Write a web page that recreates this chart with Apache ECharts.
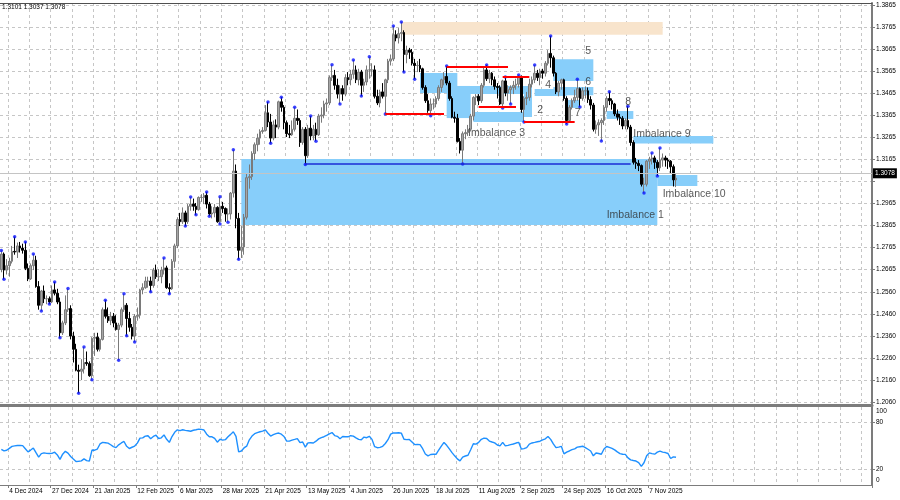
<!DOCTYPE html>
<html><head><meta charset="utf-8">
<script src="https://cdn.jsdelivr.net/npm/echarts@6/dist/echarts.min.js"></script>
<style>html,body{margin:0;padding:0;background:#fff}#c{width:900px;height:500px}</style>
</head><body><div id="c"></div>
<script>
// ---------- DATA ----------
const holidays = ['2024-12-25', '2025-01-01'];
const firstDay = '2024-11-29';
const futureSlots = 73;
// daily bars [open, high, low, close]
const bars = [
[1.2662,1.2749,1.2650,1.2733],[1.2733,1.2740,1.2618,1.2660],[1.2660,1.2710,1.2640,1.2680],[1.2680,1.2716,1.2630,1.2700],
[1.2700,1.2770,1.2690,1.2745],[1.2745,1.2812,1.2730,1.2742],[1.2742,1.2785,1.2715,1.2770],[1.2770,1.2788,1.2740,1.2760],
[1.2760,1.2780,1.2735,1.2750],[1.2750,1.2788,1.2660,1.2668],[1.2668,1.2690,1.2610,1.2620],[1.2620,1.2690,1.2615,1.2680],
[1.2680,1.2733,1.2660,1.2705],[1.2705,1.2725,1.2580,1.2585],[1.2585,1.2610,1.2480,1.2500],[1.2500,1.2570,1.2474,1.2565],
[1.2565,1.2590,1.2510,1.2530],[1.2530,1.2545,1.2505,1.2530],[1.2530,1.2540,1.2506,1.2515],[1.2515,1.2590,1.2510,1.2570],
[1.2570,1.2606,1.2545,1.2555],[1.2555,1.2575,1.2505,1.2515],[1.2515,1.2535,1.2352,1.2375],[1.2375,1.2430,1.2365,1.2420],
[1.2420,1.2545,1.2410,1.2480],[1.2480,1.2576,1.2470,1.2485],[1.2485,1.2500,1.2345,1.2360],[1.2360,1.2380,1.2240,1.2300],
[1.2300,1.2325,1.2200,1.2205],[1.2205,1.2230,1.2100,1.2200],[1.2200,1.2255,1.2160,1.2210],[1.2210,1.2310,1.2190,1.2240],
[1.2240,1.2290,1.2225,1.2235],[1.2235,1.2245,1.2175,1.2180],[1.2180,1.2355,1.2162,1.2350],[1.2350,1.2375,1.2270,1.2355],
[1.2355,1.2375,1.2290,1.2300],[1.2300,1.2350,1.2290,1.2345],[1.2345,1.2490,1.2340,1.2480],[1.2480,1.2523,1.2440,1.2450],
[1.2450,1.2490,1.2420,1.2430],[1.2430,1.2470,1.2410,1.2450],[1.2450,1.2465,1.2400,1.2420],[1.2420,1.2455,1.2385,1.2390],
[1.2390,1.2420,1.2250,1.2410],[1.2410,1.2490,1.2400,1.2480],[1.2480,1.2552,1.2470,1.2500],[1.2500,1.2510,1.2362,1.2440],
[1.2440,1.2470,1.2380,1.2400],[1.2400,1.2415,1.2345,1.2360],[1.2360,1.2460,1.2333,1.2450],[1.2450,1.2490,1.2430,1.2455],
[1.2455,1.2575,1.2440,1.2570],[1.2570,1.2600,1.2550,1.2580],[1.2580,1.2630,1.2575,1.2610],[1.2610,1.2630,1.2580,1.2610],
[1.2610,1.2630,1.2562,1.2590],[1.2590,1.2670,1.2580,1.2660],[1.2660,1.2685,1.2620,1.2630],[1.2630,1.2665,1.2610,1.2630],
[1.2630,1.2675,1.2600,1.2660],[1.2660,1.2715,1.2640,1.2670],[1.2670,1.2680,1.2575,1.2580],[1.2580,1.2600,1.2552,1.2575],
[1.2575,1.2710,1.2570,1.2700],[1.2700,1.2780,1.2670,1.2770],[1.2770,1.2900,1.2760,1.2890],[1.2890,1.2920,1.2860,1.2880],
[1.2880,1.2945,1.2870,1.2920],[1.2920,1.2930,1.2860,1.2880],[1.2880,1.2960,1.2870,1.2950],[1.2950,1.2992,1.2930,1.2960],
[1.2960,1.2985,1.2930,1.2950],[1.2950,1.2965,1.2911,1.2935],[1.2935,1.2995,1.2930,1.2990],[1.2990,1.3005,1.2970,1.2990],
[1.2990,1.3010,1.2960,1.3000],[1.3000,1.3015,1.2940,1.2960],[1.2960,1.2970,1.2905,1.2915],[1.2915,1.2950,1.2895,1.2920],
[1.2920,1.2960,1.2900,1.2945],[1.2945,1.2950,1.2875,1.2880],[1.2880,1.2993,1.2870,1.2950],[1.2950,1.2970,1.2920,1.2940],
[1.2940,1.2945,1.2880,1.2915],[1.2915,1.2940,1.2878,1.2915],[1.2915,1.3015,1.2890,1.3010],[1.3010,1.3207,1.2990,1.3110],
[1.3110,1.3140,1.2850,1.2895],[1.2895,1.2920,1.2709,1.2750],[1.2750,1.2860,1.2715,1.2765],[1.2765,1.2915,1.2730,1.2900],
[1.2900,1.3100,1.2890,1.3080],[1.3080,1.3140,1.3030,1.3085],[1.3085,1.3200,1.3070,1.3190],[1.3190,1.3240,1.3160,1.3230],
[1.3230,1.3280,1.3200,1.3260],[1.3260,1.3300,1.3230,1.3290],[1.3290,1.3310,1.3280,1.3295],[1.3295,1.3410,1.3290,1.3375],
[1.3375,1.3424,1.3310,1.3333],[1.3333,1.3370,1.3236,1.3260],[1.3260,1.3340,1.3250,1.3320],[1.3320,1.3345,1.3260,1.3310],
[1.3310,1.3430,1.3300,1.3425],[1.3425,1.3446,1.3380,1.3400],[1.3400,1.3410,1.3300,1.3330],[1.3330,1.3340,1.3265,1.3280],
[1.3280,1.3320,1.3260,1.3275],[1.3275,1.3340,1.3270,1.3300],[1.3300,1.3400,1.3290,1.3350],[1.3350,1.3390,1.3320,1.3340],
[1.3340,1.3350,1.3220,1.3240],[1.3240,1.3310,1.3230,1.3300],[1.3300,1.3310,1.3140,1.3180],[1.3180,1.3320,1.3170,1.3305],
[1.3305,1.3360,1.3250,1.3270],[1.3270,1.3320,1.3250,1.3300],[1.3300,1.3330,1.3246,1.3275],[1.3275,1.3370,1.3270,1.3360],
[1.3360,1.3400,1.3330,1.3365],[1.3365,1.3430,1.3350,1.3415],[1.3415,1.3440,1.3380,1.3420],[1.3420,1.3545,1.3410,1.3535],
[1.3535,1.3593,1.3520,1.3545],[1.3545,1.3570,1.3480,1.3500],[1.3500,1.3530,1.3440,1.3460],[1.3460,1.3500,1.3415,1.3485],
[1.3485,1.3500,1.3430,1.3460],[1.3460,1.3550,1.3450,1.3535],[1.3535,1.3560,1.3500,1.3525],[1.3525,1.3570,1.3500,1.3550],
[1.3550,1.3615,1.3530,1.3570],[1.3570,1.3590,1.3510,1.3525],[1.3525,1.3575,1.3500,1.3560],[1.3560,1.3570,1.3451,1.3500],
[1.3500,1.3530,1.3470,1.3515],[1.3515,1.3590,1.3500,1.3570],[1.3570,1.3630,1.3530,1.3570],[1.3570,1.3600,1.3540,1.3570],
[1.3570,1.3590,1.3440,1.3450],[1.3450,1.3480,1.3410,1.3420],[1.3420,1.3480,1.3400,1.3470],[1.3470,1.3510,1.3440,1.3450],
[1.3450,1.3530,1.3370,1.3525],[1.3525,1.3620,1.3510,1.3610],[1.3610,1.3640,1.3590,1.3620],[1.3620,1.3770,1.3610,1.3730],
[1.3730,1.3750,1.3700,1.3715],[1.3715,1.3760,1.3690,1.3735],[1.3735,1.3788,1.3700,1.3740],[1.3740,1.3750,1.3560,1.3640],
[1.3640,1.3680,1.3600,1.3660],[1.3660,1.3670,1.3620,1.3650],[1.3650,1.3665,1.3590,1.3600],[1.3600,1.3620,1.3528,1.3590],
[1.3590,1.3610,1.3560,1.3590],[1.3590,1.3620,1.3560,1.3575],[1.3575,1.3580,1.3480,1.3490],[1.3490,1.3500,1.3420,1.3430],
[1.3430,1.3460,1.3375,1.3385],[1.3385,1.3440,1.3361,1.3415],[1.3415,1.3440,1.3390,1.3415],[1.3415,1.3450,1.3400,1.3440],
[1.3440,1.3500,1.3430,1.3490],[1.3490,1.3530,1.3470,1.3525],[1.3525,1.3560,1.3500,1.3540],[1.3540,1.3588,1.3500,1.3510],
[1.3510,1.3520,1.3430,1.3440],[1.3440,1.3450,1.3350,1.3355],[1.3355,1.3380,1.3330,1.3350],[1.3350,1.3370,1.3240,1.3245],
[1.3245,1.3260,1.3190,1.3205],[1.3205,1.3290,1.3142,1.3280],[1.3280,1.3300,1.3255,1.3285],[1.3285,1.3320,1.3270,1.3300],
[1.3300,1.3370,1.3290,1.3360],[1.3360,1.3450,1.3340,1.3445],[1.3445,1.3460,1.3410,1.3450],[1.3450,1.3460,1.3410,1.3430],
[1.3430,1.3510,1.3420,1.3500],[1.3500,1.3580,1.3490,1.3570],[1.3570,1.3592,1.3520,1.3530],[1.3530,1.3570,1.3510,1.3555],
[1.3555,1.3560,1.3500,1.3525],[1.3525,1.3540,1.3480,1.3495],[1.3495,1.3510,1.3440,1.3490],[1.3490,1.3500,1.3410,1.3415],
[1.3415,1.3525,1.3397,1.3520],[1.3520,1.3538,1.3450,1.3465],[1.3465,1.3500,1.3430,1.3480],[1.3480,1.3500,1.3415,1.3490],
[1.3490,1.3520,1.3460,1.3500],[1.3500,1.3530,1.3480,1.3505],[1.3505,1.3547,1.3490,1.3540],[1.3540,1.3545,1.3375,1.3390],
[1.3390,1.3450,1.3333,1.3440],[1.3440,1.3470,1.3410,1.3445],[1.3445,1.3530,1.3430,1.3505],[1.3505,1.3540,1.3490,1.3525],
[1.3525,1.3592,1.3510,1.3555],[1.3555,1.3570,1.3520,1.3535],[1.3535,1.3575,1.3500,1.3565],[1.3565,1.3575,1.3530,1.3555],
[1.3555,1.3610,1.3540,1.3600],[1.3600,1.3660,1.3590,1.3645],[1.3645,1.3724,1.3580,1.3625],[1.3625,1.3635,1.3540,1.3555],
[1.3555,1.3560,1.3460,1.3470],[1.3470,1.3520,1.3450,1.3510],[1.3510,1.3530,1.3480,1.3525],[1.3525,1.3530,1.3430,1.3440],
[1.3440,1.3450,1.3324,1.3340],[1.3340,1.3410,1.3330,1.3400],[1.3400,1.3440,1.3390,1.3430],[1.3430,1.3480,1.3420,1.3445],
[1.3445,1.3528,1.3430,1.3485],[1.3485,1.3490,1.3401,1.3440],[1.3440,1.3490,1.3430,1.3475],[1.3475,1.3495,1.3440,1.3475],
[1.3475,1.3490,1.3420,1.3435],[1.3435,1.3450,1.3390,1.3410],[1.3410,1.3420,1.3290,1.3300],[1.3300,1.3340,1.3280,1.3320],
[1.3320,1.3345,1.3270,1.3330],[1.3330,1.3350,1.3247,1.3340],[1.3340,1.3410,1.3320,1.3400],[1.3400,1.3450,1.3380,1.3440],
[1.3440,1.3471,1.3410,1.3430],[1.3430,1.3440,1.3390,1.3415],[1.3415,1.3420,1.3360,1.3370],[1.3370,1.3390,1.3340,1.3355],
[1.3355,1.3370,1.3320,1.3350],[1.3350,1.3360,1.3300,1.3315],[1.3315,1.3350,1.3300,1.3340],[1.3340,1.3405,1.3300,1.3310],
[1.3310,1.3320,1.3225,1.3240],[1.3240,1.3250,1.3140,1.3150],[1.3150,1.3170,1.3120,1.3145],[1.3145,1.3160,1.3110,1.3135],
[1.3135,1.3140,1.3040,1.3050],[1.3050,1.3080,1.3010,1.3050],[1.3050,1.3160,1.3040,1.3155],[1.3155,1.3175,1.3120,1.3165],
[1.3165,1.3192,1.3140,1.3170],[1.3170,1.3180,1.3120,1.3150],[1.3150,1.3160,1.3088,1.3125],[1.3125,1.3215,1.3110,1.3160],
[1.3160,1.3190,1.3130,1.3170],[1.3170,1.3180,1.3130,1.3160],[1.3160,1.3170,1.3120,1.3155],[1.3155,1.3160,1.3100,1.3130],
[1.3130,1.3140,1.3040,1.3070],[1.3070,1.3101,1.3037,1.3078]
];
// oscillator (0-100) per bar
const osc = [
45.8,43.8,44.5,47,49.5,50.2,50.6,50.8,50.5,46.5,42.5,44.8,47.4,41.5,35.8,40.2,41.2,40.6,40.3,40.6,
42.1,38.5,32.8,39.5,43.2,40.8,36.5,33.2,30.1,30.4,30.9,33.5,31.2,30.6,44.8,44.6,46.1,52.6,54.6,54.2,
53.7,51.6,49.2,47.9,51.5,53.9,55.8,49.6,46.8,48.4,49.9,53.7,60.1,60.4,62.6,63.1,59.4,62.2,63.8,59.6,
60.5,64.3,58.6,54.6,62.1,67.6,70.7,69.8,70.8,70.1,69.6,68.9,70.2,70.8,71.6,71.3,70.5,65.2,61.9,61.8,
59.8,54.9,58.6,57.6,58.1,61.9,64.9,68.3,62.3,42.4,43.6,47.5,49.8,57.9,62.7,65.8,67.2,68.3,69.1,70.7,
66.4,62.8,64.5,65.9,66.6,65.1,62.2,56.3,56.2,57.5,58.4,59.5,54.3,55.1,48.6,54,54.1,53.8,56.2,59.1,
60.8,61.9,63.5,65.6,67.2,63.4,62.4,59.4,62.2,61.8,61.8,63.2,62.6,60.4,58.5,58.1,61.4,60.6,62.4,58.5,
49.1,47.8,48.3,49.6,53.2,58.1,65.2,66.8,66.6,66.9,66.5,58.6,58.2,58.4,55.2,51.8,52.1,51.7,46.5,39.8,
37.3,39.1,39.5,39.4,44.6,49.8,54.6,50.9,46.3,41.5,37.4,33.5,30.9,35.8,37.2,38.2,45.2,52.8,52.4,54.6,
58.6,60.1,59.6,56.3,55.1,54,51.3,50.2,54.6,50.1,50.8,51.8,52.6,53.8,54.7,46.1,46.7,47.9,52.5,53.9,
54.6,55.4,56.1,57.8,59.2,62.2,58.5,52.7,47.9,48.6,49.6,39.9,42.2,43.6,45.3,46.3,48.5,49.1,49.7,47.9,
45.8,43.6,37.4,41,40.4,39.4,46.2,49.4,48.2,46.9,45,42.4,40.3,39.4,39.3,34.8,32.2,31.4,30.7,28.8,
23.8,28.5,37.5,41.2,40.3,39.5,42.1,43.4,42.1,41.6,40.4,34,36.1,35.5
];
// price-axis tick labels (MT4 style) and grid values
const priceLabels = [1.3865,1.3765,1.3665,1.3565,1.3465,1.3365,1.3265,1.3165,1.2965,1.2865,1.2765,1.2665,1.2560,1.2460,1.2360,1.2260,1.2160,1.2060];
const priceGrid = [1.3865,1.3765,1.3665,1.3565,1.3465,1.3365,1.3265,1.3165,1.3065,1.2965,1.2865,1.2765,1.2665,1.2560,1.2460,1.2360,1.2260,1.2160,1.2060];
const oscLabels = [0, 20, 80, 100];
const oscGrid = [20, 80];
// fractal markers (bar indices)
const fractalHighs = [0,5,9,12,20,25,31,39,46,61,71,77,82,87,100,105,110,116,124,132,138,147,150,167,182,189,194,200,206,216,228,235,244,247];
const fractalLows = [1,15,18,22,29,34,44,47,50,56,63,69,73,78,82,85,89,101,114,118,127,135,144,151,155,161,173,188,191,196,212,217,225,241,246];
// zones [fromBar, toBar, priceTop, priceBottom, kind]
const zones = [
[150,248,1.3788,1.3730,'supply'],
[90,246,1.3165,1.2865,'imb'],
[157,171,1.3556,1.3465,'imb'],
[167,176,1.3497,1.3351,'imb'],
[172,199,1.3497,1.3460,'imb'],
[177,196,1.3379,1.3333,'imb'],
[196,199,1.3460,1.3356,'imb'],
[200,212,1.3483,1.3451,'imb'],
[207,222,1.3618,1.3520,'imb'],
[207,222,1.3492,1.3455,'imb'],
[212,217,1.3433,1.3397,'imb'],
[227,237,1.3383,1.3347,'imb'],
[237,267,1.3270,1.3235,'imb'],
[246,261,1.3092,1.3042,'imb']
];
// level lines [fromBar, toBar, price, kind]
const levels = [
[114,236,1.3142,'major'],
[144,166,1.3370,'minor'],
[167,190,1.3583,'minor'],
[179,193,1.3401,'minor'],
[188,198,1.3538,'minor'],
[196,215,1.3333,'minor']
];
// text annotations [text, bar, price]
const notes = [
['Imbalance 3',175,1.3283],['Imbalance 9',236.9,1.3278],['Imbalance 10',248.1,1.3006],['Imbalance 1',227.1,1.2910],
['2',200.5,1.3388],['4',203.9,1.3501],['5',218.9,1.3656],['6',218.9,1.3515],['7',214.7,1.3374],['8',233.5,1.3424]
];
const headerText = '1.3101 1.3037 1.3078';

// ---------- BUILD ----------
const MON = ['Jan','Feb','Mar','Apr','May','Jun','Jul','Aug','Sep','Oct','Nov','Dec'];
const cats = [];
{
  let d = new Date(firstDay + 'T00:00:00Z');
  while (cats.length < bars.length) {
    const wd = d.getUTCDay();
    const iso = d.toISOString().slice(0,10);
    if (wd !== 0 && wd !== 6 && !holidays.includes(iso)) cats.push(d.getUTCDate() + ' ' + MON[d.getUTCMonth()] + ' ' + d.getUTCFullYear());
    d = new Date(d.getTime() + 86400000);
  }
  for (let k = 0; k < futureSlots; k++) cats.push('');
}
const lastIdx = bars.length - 1;
const lastClose = bars[lastIdx][3];
const labelFn = (i) => i <= lastIdx && (i - 3) % 16 === 0;
const gridFn = (i) => i >= 3 && (i - 3) % 8 === 0;
const FONT = 'Liberation Sans';
const gridLine = {show: true, interval: gridFn, lineStyle: {color: '#c6c6c6', type: [3, 3], width: 1}};
const AXIS_GRAY = '#7c7c7c';
const zoneColor = {supply: '#f8e4cc', imb: '#87cefa'};
const levelStyle = {major: {color: '#1a2bd6', width: 1.5}, minor: {color: '#ff0000', width: 2}};

const option = {
  animation: false,
  backgroundColor: '#ffffff',
  textStyle: {fontFamily: FONT},
  title: {text: headerText, left: 2, top: 4, padding: 0,
    textStyle: {fontSize: 6.5, fontWeight: 'normal', color: '#000', fontFamily: FONT}},
  grid: [
    {left: 0, right: 28, top: 3, height: 402},
    {left: 0, right: 28, top: 407, height: 78}
  ],
  xAxis: [
    {type: 'category', gridIndex: 0, data: cats, boundaryGap: true, position: 'top',
      axisLine: {show: true, lineStyle: {color: '#505050', width: 1}}, axisTick: {show: false}, axisLabel: {show: false},
      splitLine: gridLine},
    {type: 'category', gridIndex: 1, data: cats, boundaryGap: true, position: 'bottom',
      axisLine: {show: true, lineStyle: {color: AXIS_GRAY, width: 1}},
      axisTick: {show: true, interval: labelFn, length: 3, lineStyle: {color: AXIS_GRAY}},
      axisLabel: {interval: labelFn, fontSize: 6.5, color: '#000', align: 'left', margin: 3, fontFamily: FONT},
      splitLine: gridLine},
    {type: 'category', gridIndex: 0, data: cats, boundaryGap: true, position: 'bottom',
      axisLine: {show: true, lineStyle: {color: AXIS_GRAY, width: 3}}, axisTick: {show: false}, axisLabel: {show: false},
      splitLine: {show: false}}
  ],
  yAxis: [
    {type: 'value', gridIndex: 0, position: 'right', min: 1.38877 - 405/2200, max: 1.38877 - 3/2200,
      axisLine: {show: true, lineStyle: {color: AXIS_GRAY, width: 2}},
      axisTick: {show: true, customValues: priceGrid, length: 3, lineStyle: {color: AXIS_GRAY}},
      axisLabel: {customValues: priceLabels, formatter: (v) => v.toFixed(4), fontSize: 6.5, color: '#000', margin: 4, fontFamily: FONT},
      splitLine: {show: true, lineStyle: {color: '#c6c6c6', type: [3, 3], width: 1}}},
    {type: 'value', gridIndex: 1, position: 'right', min: 0, max: 100,
      axisLine: {show: true, lineStyle: {color: AXIS_GRAY, width: 2}},
      axisTick: {show: true, customValues: oscGrid, length: 3, lineStyle: {color: AXIS_GRAY}},
      axisLabel: {customValues: oscLabels, fontSize: 6.5, color: '#000', margin: 4, fontFamily: FONT,
        formatter: (v) => v === 100 ? '{t|100}' : (v === 0 ? '{b|0}' : String(v)),
        rich: {t: {fontSize: 6.5, padding: [8, 0, 0, 0]}, b: {fontSize: 6.5, padding: [0, 0, 10, 0]}}},
      splitLine: {show: true, lineStyle: {color: '#c6c6c6', type: [3, 3], width: 1}}}
  ],
  series: [
    {name: 'zones', type: 'line', xAxisIndex: 0, yAxisIndex: 0, data: [], z: 1, silent: true,
      markArea: {silent: true, data: zones.map(z => [
        {xAxis: z[0], yAxis: z[2], itemStyle: {color: zoneColor[z[4]], opacity: 1}},
        {xAxis: z[1], yAxis: z[3]}
      ])}},
    {name: 'price', type: 'candlestick', xAxisIndex: 0, yAxisIndex: 0, z: 2, barWidth: 2,
      data: bars.map(b => [b[0], b[3], b[2], b[1]]),
      itemStyle: {color: '#a6a6a6', color0: '#000000', borderColor: '#7a7a7a', borderColor0: '#000000', borderWidth: 1},
      markLine: {silent: true, symbol: ['none', 'none'], animation: false,
        data: [{yAxis: lastClose}],
        lineStyle: {color: '#c4c4c4', type: 'solid', width: 1},
        label: {show: true, position: 'end', distance: 1, formatter: lastClose.toFixed(4), backgroundColor: '#000', color: '#fff',
          fontSize: 6.5, padding: [2, 2, 1, 2], fontFamily: FONT}}},
    {name: 'levels', type: 'line', xAxisIndex: 0, yAxisIndex: 0, data: [], z: 3, silent: true,
      markLine: {silent: true, symbol: ['none', 'none'], label: {show: false},
        data: levels.map(l => [
          {coord: [l[0], l[2]], lineStyle: Object.assign({type: 'solid'}, levelStyle[l[3]])},
          {coord: [l[1], l[2]]}
        ])}},
    {name: 'fractals', type: 'scatter', xAxisIndex: 0, yAxisIndex: 0, z: 4, symbolSize: 3.5, silent: true,
      itemStyle: {color: '#0a14ff'},
      data: fractalHighs.map(i => [i, bars[i][1]]).concat(fractalLows.map(i => [i, bars[i][2]]))},
    {name: 'notes', type: 'scatter', xAxisIndex: 0, yAxisIndex: 0, z: 5, symbolSize: 0, silent: true,
      label: {show: true, position: 'right', distance: 0, formatter: '{b}', fontSize: 10.5, color: '#2e2e2e', fontFamily: FONT},
      data: notes.map(n => ({name: n[0], value: [n[1], n[2]]}))},
    {name: 'osc', type: 'line', xAxisIndex: 1, yAxisIndex: 1, data: osc, showSymbol: false, z: 3,
      lineStyle: {color: '#1e90ff', width: 1.4}}
  ]
};
const chart = echarts.init(document.getElementById('c'), null, {renderer: 'canvas'});
chart.setOption(option);
</script>
</body></html>
